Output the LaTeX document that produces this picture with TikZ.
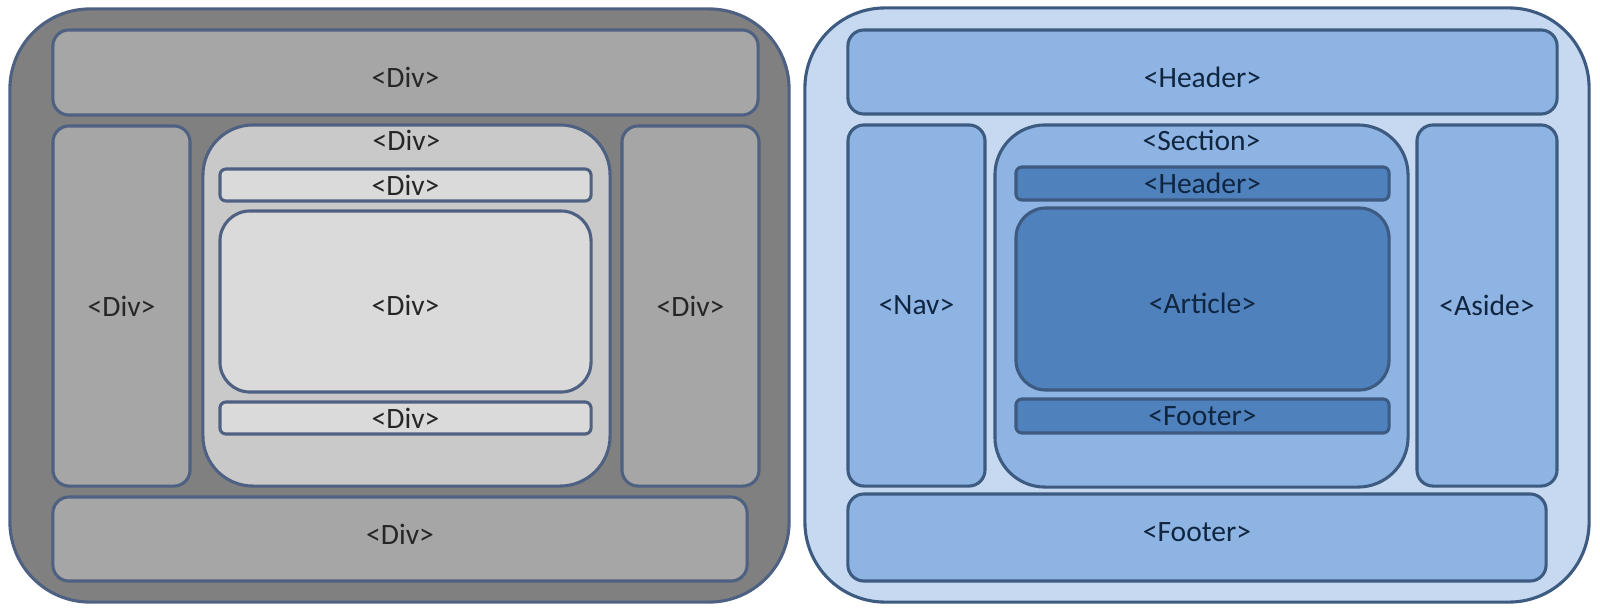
\documentclass[tikz,border=0pt]{standalone}
\usepackage{fontspec}
\setmainfont{Carlito}
\usepackage{xcolor}
\definecolor{greyline}{HTML}{4E6182}
\definecolor{greyouter}{HTML}{808080}
\definecolor{greybox}{HTML}{A6A6A6}
\definecolor{greymid}{HTML}{C9C9C9}
\definecolor{greyinner}{HTML}{DADADA}
\definecolor{blueline}{HTML}{3D5A80}
\definecolor{blueouter}{HTML}{C6D9F1}
\definecolor{bluebox}{HTML}{8EB4E3}
\definecolor{blueinner}{HTML}{4F81BD}
\definecolor{navytext}{HTML}{10253F}

\begin{document}
\begin{tikzpicture}[
    x=0.025cm, y=-0.025cm,
    box/.style={draw, rectangle, line width=2.2pt, inner sep=0pt, font=\fontsize{21}{24}\selectfont},
    greybox/.style={box, draw=greyline, text=black!85},
    bluebox/.style={box, draw=blueline, text=navytext},
    textlow/.style={text height=0.77cm, text depth=0pt},
    textmid/.style={text height=0.72cm, text depth=0pt},
    texthigh/.style={text depth=0.25cm}
]
\useasboundingbox (0,0) rectangle (1600,614);

% left panel: div soup
\node[greybox, fill=greyouter, rounded corners=2cm, minimum width=19.475cm, minimum height=14.825cm] (divpage) at (399.5,305.5) {};
\node[greybox, fill=greybox, rounded corners=0.4cm, minimum width=17.625cm, minimum height=2.125cm, textlow] (divtop) at (405.5,72.5) {<Div>};
\node[greybox, fill=greybox, rounded corners=0.4cm, minimum width=3.425cm, minimum height=9cm] (divleft) at (121.5,306) {<Div>};
\node[greybox, fill=greymid, rounded corners=1.25cm, minimum width=10.175cm, minimum height=9.025cm,
      label={[anchor=north, font=\fontsize{21}{24}\selectfont, text=black!85, yshift=-0.05cm]north:<Div>}] (divmid) at (406.5,305.5) {};
\node[greybox, fill=greybox, rounded corners=0.4cm, minimum width=3.425cm, minimum height=9cm] (divright) at (690.5,306) {<Div>};
\node[greybox, fill=greybox, rounded corners=0.4cm, minimum width=17.35cm, minimum height=2.1cm, texthigh] (divbottom) at (400,539) {<Div>};
\node[greybox, fill=greyinner, rounded corners=0.15cm, minimum width=9.275cm, minimum height=0.8cm] (divinhead) at (405.5,185) {<Div>};
\node[greybox, fill=greyinner, rounded corners=0.75cm, minimum width=9.275cm, minimum height=4.525cm, textmid] (divinmain) at (405.5,301.5) {<Div>};
\node[greybox, fill=greyinner, rounded corners=0.15cm, minimum width=9.275cm, minimum height=0.8cm] (divinfoot) at (405.5,418) {<Div>};

% right panel: semantic tags
\node[bluebox, fill=blueouter, rounded corners=2cm, minimum width=19.6cm, minimum height=14.85cm] (page) at (1197,305) {};
\node[bluebox, fill=bluebox, rounded corners=0.4cm, minimum width=17.725cm, minimum height=2.1cm, textlow] (header) at (1202.5,72) {<Header>};
\node[bluebox, fill=bluebox, rounded corners=0.4cm, minimum width=3.425cm, minimum height=9.025cm] (nav) at (916.5,305.5) {<Nav>};
\node[bluebox, fill=bluebox, rounded corners=1.25cm, minimum width=10.325cm, minimum height=9.05cm,
      label={[anchor=north, font=\fontsize{21}{24}\selectfont, text=navytext, yshift=-0.05cm]north:<Section>}] (section) at (1201.5,306) {};
\node[bluebox, fill=bluebox, rounded corners=0.4cm, minimum width=3.5cm, minimum height=9.025cm] (aside) at (1487,305.5) {<Aside>};
\node[bluebox, fill=bluebox, rounded corners=0.4cm, minimum width=17.45cm, minimum height=2.175cm, texthigh] (footer) at (1197,537.5) {<Footer>};
\node[bluebox, fill=blueinner, rounded corners=0.15cm, minimum width=9.325cm, minimum height=0.825cm] (secheader) at (1202.5,183.5) {<Header>};
\node[bluebox, fill=blueinner, rounded corners=0.75cm, minimum width=9.325cm, minimum height=4.55cm, textmid] (article) at (1202.5,299) {<Article>};
\node[bluebox, fill=blueinner, rounded corners=0.15cm, minimum width=9.325cm, minimum height=0.85cm] (secfooter) at (1202.5,416) {<Footer>};
\end{tikzpicture}
\end{document}
